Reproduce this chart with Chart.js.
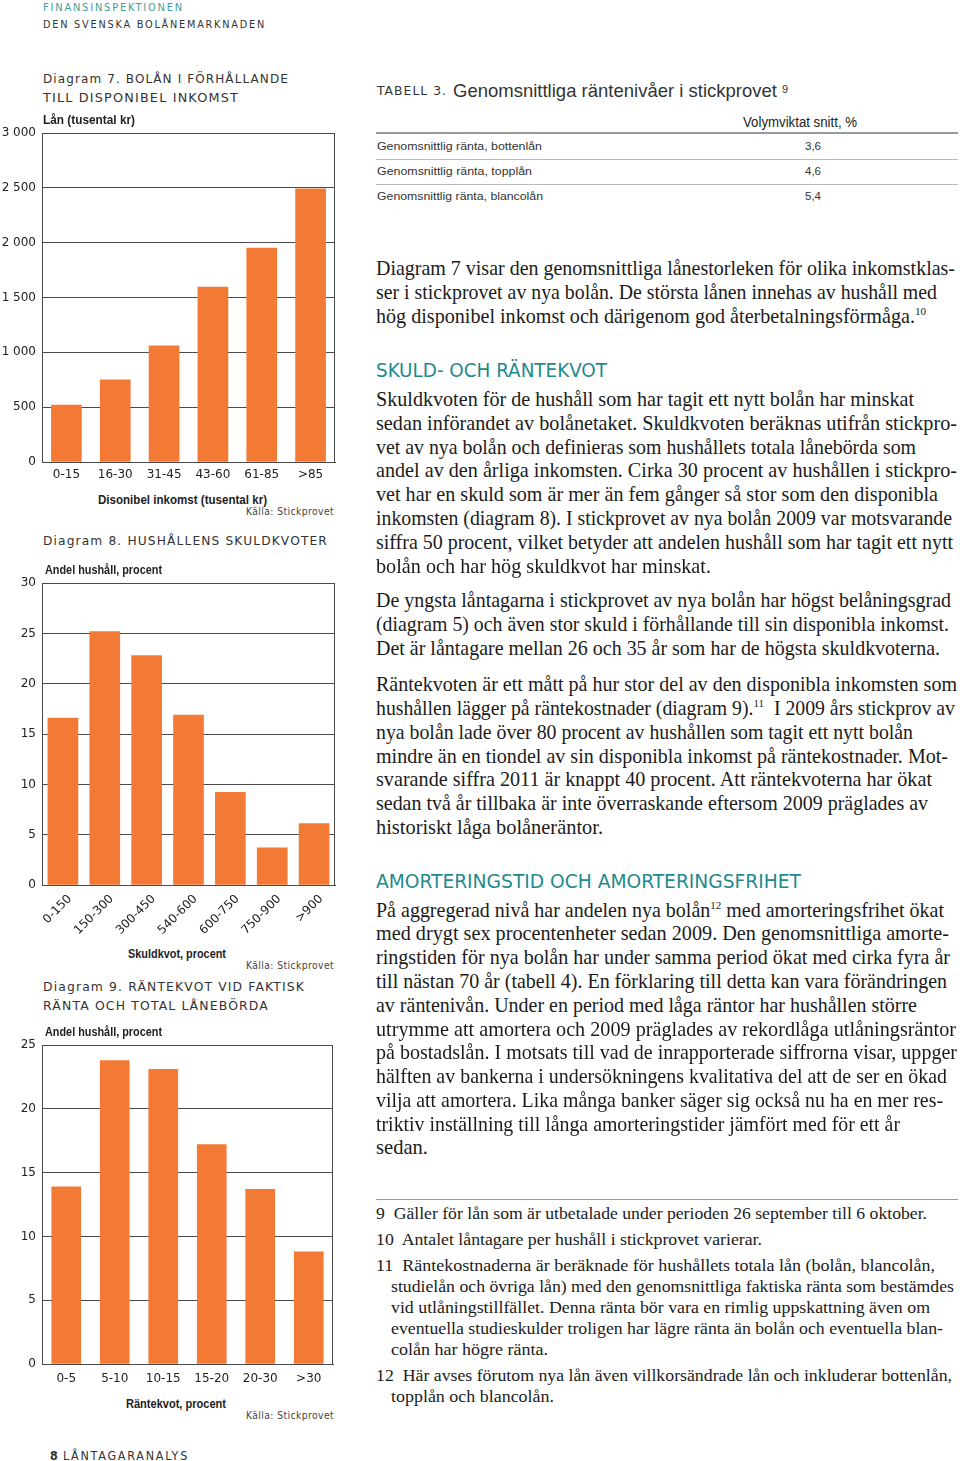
<!DOCTYPE html>
<html><head><meta charset="utf-8">
<script src="https://cdn.jsdelivr.net/npm/chart.js@4"></script>
<style>
html,body{margin:0;padding:0;background:#fff;}
body{width:960px;height:1461px;position:relative;overflow:hidden;}
.t{position:absolute;white-space:nowrap;line-height:1;}
.hdr{font-family:"DejaVu Sans",sans-serif;font-size:11px;letter-spacing:2px;color:#333;}
.dh{font-family:"DejaVu Sans",sans-serif;font-size:13px;letter-spacing:1.2px;color:#333;}
.ax{font-family:"Liberation Sans Narrow","Liberation Sans",sans-serif;font-weight:bold;font-size:13px;color:#222;}
.src{font-family:"DejaVu Sans",sans-serif;font-size:11px;letter-spacing:0.5px;color:#444;}
.body{font-family:"Liberation Serif",serif;font-size:18px;color:#1b1b1b;}
.fn{font-family:"Liberation Serif",serif;font-size:15.5px;color:#1b1b1b;}
.sec{font-family:"DejaVu Sans Condensed","DejaVu Sans",sans-serif;font-size:20px;color:#1f8a8d;}
.tab{font-family:"Liberation Sans",sans-serif;font-size:11.5px;color:#333;}
.tabh{font-family:"Liberation Sans Narrow","Liberation Sans",sans-serif;font-size:14px;color:#222;}
.tabt{font-family:"Liberation Sans Narrow","Liberation Sans",sans-serif;font-size:19px;color:#333;}
sup{font-size:0.55em;vertical-align:baseline;position:relative;top:-0.75em;}
canvas{position:absolute;}
.rule{position:absolute;}
</style>
</head><body>
<canvas id="c7" width="340" height="374" style="left:0;top:118px"></canvas>
<canvas id="c8" width="340" height="375" style="left:0;top:570px"></canvas>
<canvas id="c9" width="340" height="362" style="left:0;top:1032px"></canvas>
<div class="rule" style="left:376px;top:132px;width:582px;height:2px;background:#999"></div>
<div class="rule" style="left:376px;top:159px;width:582px;height:1px;background:#bbb"></div>
<div class="rule" style="left:376px;top:184px;width:582px;height:1px;background:#bbb"></div>
<div class="rule" style="left:376px;top:1199px;width:582px;height:1px;background:#999"></div>
<script>
// ---- DATA ----
const incomeClasses = ['0-15','16-30','31-45','43-60','61-85','>85'];
const avgLoan = [520, 750, 1060, 1595, 1950, 2490];
const loanTicks = [0, 500, 1000, 1500, 2000, 2500, 3000];

const debtRatioClasses = ['0-150','150-300','300-450','540-600','600-750','750-900','>900'];
const debtRatioShare = [16.6, 25.2, 22.8, 16.9, 9.2, 3.7, 6.1];
const debtTicks = [0, 5, 10, 15, 20, 25, 30];

const interestRatioClasses = ['0-5','5-10','10-15','15-20','20-30','>30'];
const interestRatioShare = [13.9, 23.8, 23.1, 17.2, 13.7, 8.8];
const interestTicks = [0, 5, 10, 15, 20, 25];

const rateLabels = ['Genomsnittlig ränta, bottenlån','Genomsnittlig ränta, topplån','Genomsnittlig ränta, blancolån'];
const rateValues = ['3,6','4,6','5,4'];

// ---- CHARTS ----
const ORANGE = '#F37A35';
const LINE = '#4a4a4a';
const fmt = v => String(v).replace(/\B(?=(\d{3})+(?!\d))/g, ' ');
const frame = {id:'frame', afterDatasetsDraw(chart){
  const {ctx, chartArea:a} = chart;
  ctx.save(); ctx.strokeStyle = LINE; ctx.lineWidth = 1;
  ctx.beginPath(); ctx.moveTo(Math.round(a.right)-0.5, a.top); ctx.lineTo(Math.round(a.right)-0.5, a.bottom); ctx.stroke();
  ctx.restore();
}};
function makeChart(id, c){
  return new Chart(document.getElementById(id), {
    type:'bar',
    data:{labels:c.labels, datasets:[{data:c.data, backgroundColor:ORANGE, borderWidth:0, barThickness:c.barT}]},
    options:{
      responsive:false, animation:false, devicePixelRatio:1,
      layout:{padding:{top:c.padTop, right:c.padRight, left:0, bottom:0}},
      plugins:{legend:{display:false}, tooltip:{enabled:false}},
      scales:{
        x:{grid:{display:false, drawTicks:false}, border:{display:true, color:LINE, width:1},
           ticks:{color:'#222', font:{family:'DejaVu Sans', size:12}, padding:c.tickPad, labelOffset:c.lblOff || 0,
                  minRotation:c.rot, maxRotation:c.rot, autoSkip:false},
           afterFit:s=>{s.height = c.xH;}},
        y:{min:0, max:c.ticks[c.ticks.length-1],
           grid:{color:LINE, lineWidth:1, drawTicks:false}, border:{display:true, color:LINE, width:1},
           ticks:{color:'#222', font:{family:'DejaVu Sans', size:12}, padding:6, callback:fmt},
           afterBuildTicks:s=>{s.ticks = c.ticks.map(v=>({value:v}));},
           afterFit:s=>{s.width = 42;}}
      }
    },
    plugins:[frame]
  });
}

// ---- TEXT ----
const texts = [];
function T(html, x, y, cls, o={}){ texts.push(Object.assign({html, x, y, cls}, o)); }

T('FINANSINSPEKTIONEN', 43, 7, 'hdr', {w:141, color:'#3f9e9c'});
T('DEN SVENSKA BOLÅNEMARKNADEN', 43, 24, 'hdr', {w:223});
T('Diagram 7. BOLÅN I FÖRHÅLLANDE', 43, 78, 'dh', {w:246});
T('TILL DISPONIBEL INKOMST', 43, 97, 'dh', {w:196});
T('Lån (tusental kr)', 43, 119, 'ax', {w:92});
T('Disonibel inkomst (tusental kr)', 98, 499, 'ax', {w:169});
T('Källa: Stickprovet', 246, 511, 'src', {w:88});
T('Diagram 8. HUSHÅLLENS SKULDKVOTER', 43, 540, 'dh', {w:285});
T('Andel hushåll, procent', 45, 569, 'ax', {w:117});
T('Skuldkvot, procent', 128, 953, 'ax', {w:98});
T('Källa: Stickprovet', 246, 965, 'src', {w:88});
T('Diagram 9. RÄNTEKVOT VID FAKTISK', 43, 986, 'dh', {w:262});
T('RÄNTA OCH TOTAL LÅNEBÖRDA', 43, 1005, 'dh', {w:226});
T('Andel hushåll, procent', 45, 1031, 'ax', {w:117});
T('Räntekvot, procent', 126, 1403, 'ax', {w:100});
T('Källa: Stickprovet', 246, 1415, 'src', {w:88});
T('<b style="letter-spacing:0">8</b>&nbsp;LÅNTAGARANALYS', 50, 1455, 'hdr', {w:139, size:13});

// table
T('TABELL 3.', 377, 91, 'hdr', {w:70, size:12, letter:1});
T('Genomsnittliga räntenivåer i stickprovet', 453, 90, 'tabt', {w:324});
T('<span style="font-size:11px">9</span>', 782, 86, 'tabt');
T('Volymviktat snitt, %', 743, 122, 'tabh', {w:114});
const rowY = [147, 172, 197];
rateLabels.forEach((l,i)=>T(l, 377, rowY[i], 'tab', {w:[165,155,166][i]}));
rateValues.forEach((v,i)=>T(v, 813, rowY[i], 'tab', {align:'center'}));

// body: y centre, right edge, text
const B = (y, r, h) => T(h, 376, y, 'body', {w:r-376});
B(268,955,'Diagram 7 visar den genomsnittliga lånestorleken för olika inkomstklas-');
B(292,937,'ser i stickprovet av nya bolån. De största lånen innehas av hushåll med');
B(316,926,'hög disponibel inkomst och därigenom god återbetalningsförmåga.<sup>10</sup>');
T('SKULD- OCH RÄNTEKVOT', 376, 370, 'sec', {w:231});
B(399,914,'Skuldkvoten för de hushåll som har tagit ett nytt bolån har minskat');
B(423,957,'sedan införandet av bolånetaket. Skuldkvoten beräknas utifrån stickpro-');
B(447,916,'vet av nya bolån och definieras som hushållets totala lånebörda som');
B(470,957,'andel av den årliga inkomsten. Cirka 30 procent av hushållen i stickpro-');
B(494,938,'vet har en skuld som är mer än fem gånger så stor som den disponibla');
B(518,952,'inkomsten (diagram 8). I stickprovet av nya bolån 2009 var motsvarande');
B(542,953,'siffra 50 procent, vilket betyder att andelen hushåll som har tagit ett nytt');
B(566,711,'bolån och har hög skuldkvot har minskat.');
B(600,951,'De yngsta låntagarna i stickprovet av nya bolån har högst belåningsgrad');
B(624,949,'(diagram 5) och även stor skuld i förhållande till sin disponibla inkomst.');
B(648,940,'Det är låntagare mellan 26 och 35 år som har de högsta skuldkvoterna.');
B(684,957,'Räntekvoten är ett mått på hur stor del av den disponibla inkomsten som');
B(708,955,'hushållen lägger på räntekostnader (diagram 9).<sup>11</sup>&nbsp; I 2009 års stickprov av');
B(732,913,'nya bolån lade över 80 procent av hushållen som tagit ett nytt bolån');
B(756,948,'mindre än en tiondel av sin disponibla inkomst på räntekostnader. Mot-');
B(779,932,'svarande siffra 2011 är knappt 40 procent. Att räntekvoterna har ökat');
B(803,928,'sedan två år tillbaka är inte överraskande eftersom 2009 präglades av');
B(827,603,'historiskt låga bolåneräntor.');
T('AMORTERINGSTID OCH AMORTERINGSFRIHET', 376, 881, 'sec', {w:425});
B(910,944,'På aggregerad nivå har andelen nya bolån<sup>12</sup> med amorteringsfrihet ökat');
B(933,949,'med drygt sex procentenheter sedan 2009. Den genomsnittliga amorte-');
B(957,950,'ringstiden för nya bolån har under samma period ökat med cirka fyra år');
B(981,947,'till nästan 70 år (tabell 4). En förklaring till detta kan vara förändringen');
B(1005,917,'av räntenivån. Under en period med låga räntor har hushållen större');
B(1029,956,'utrymme att amortera och 2009 präglades av rekordlåga utlåningsräntor');
B(1052,957,'på bostadslån. I motsats till vad de inrapporterade siffrorna visar, uppger');
B(1076,947,'hälften av bankerna i undersökningens kvalitativa del att de ser en ökad');
B(1100,943,'vilja att amortera. Lika många banker säger sig också nu ha en mer res-');
B(1124,900,'triktiv inställning till långa amorteringstider jämfört med för ett år');
B(1147,428,'sedan.');
// footnotes: x, y centre, right edge, text
const F = (x, y, r, h) => T(h, x, y, 'fn', {w:r-x});
F(376,1214,927,'9&nbsp; Gäller för lån som är utbetalade under perioden 26 september till 6 oktober.');
F(376,1240,762,'10&nbsp; Antalet låntagare per hushåll i stickprovet varierar.');
F(376,1266,935,'11&nbsp; Räntekostnaderna är beräknade för hushållets totala lån (bolån, blancolån,');
F(391,1287,954,'studielån och övriga lån) med den genomsnittliga faktiska ränta som bestämdes');
F(391,1308,930,'vid utlåningstillfället. Denna ränta bör vara en rimlig uppskattning även om');
F(391,1329,943,'eventuella studieskulder troligen har lägre ränta än bolån och eventuella blan-');
F(391,1350,548,'colån har högre ränta.');
F(376,1376,952,'12&nbsp; Här avses förutom nya lån även villkorsändrade lån och inkluderar bottenlån,');
F(391,1397,554,'topplån och blancolån.');

function calibrate(cls, startsWith, target){
  const s = texts.find(t=>t.cls===cls && t.html.startsWith(startsWith));
  const w = s.el.getBoundingClientRect().width;
  const cur = parseFloat(getComputedStyle(s.el).fontSize);
  const size = cur * target / w;
  texts.filter(t=>t.cls===cls).forEach(t=>t.el.style.fontSize = size+'px');
}

function build(){
  for (const s of texts){
    const el = document.createElement('div');
    el.className = 't ' + s.cls;
    el.innerHTML = s.html;
    if (s.color) el.style.color = s.color;
    if (s.size) el.style.fontSize = s.size + 'px';
    if (s.letter !== undefined) el.style.letterSpacing = s.letter + 'px';
    document.body.appendChild(el);
    s.el = el;
  }
  calibrate('body', 'Räntekvoten är', 581);
  calibrate('fn', 'studielån', 563);
  for (const s of texts){
    const el = s.el;
    const r = el.getBoundingClientRect();
    let w = r.width;
    if (s.w){
      el.style.transformOrigin = '0 50%';
      el.style.transform = 'scaleX(' + (s.w / w) + ')';
      w = s.w;
    }
    let x = s.x;
    if (s.align === 'center') x = s.x - w/2;
    if (s.align === 'right') x = s.x - w;
    el.style.left = x + 'px';
    el.style.top = (s.y - r.height/2) + 'px';
  }
}

function init(){
  build();
  makeChart('c7', {labels:incomeClasses, data:avgLoan, ticks:loanTicks, padTop:15, padRight:5, xH:30, barT:30, rot:0, tickPad:6});
  makeChart('c8', {labels:debtRatioClasses, data:debtRatioShare, ticks:debtTicks, padTop:12, padRight:5, xH:60, barT:30, rot:45, tickPad:7, lblOff:7});
  makeChart('c9', {labels:interestRatioClasses, data:interestRatioShare, ticks:interestTicks, padTop:12, padRight:7, xH:30, barT:29, rot:0, tickPad:8});
}
if (document.fonts && document.fonts.ready) document.fonts.ready.then(init); else init();
</script>
</body></html>
